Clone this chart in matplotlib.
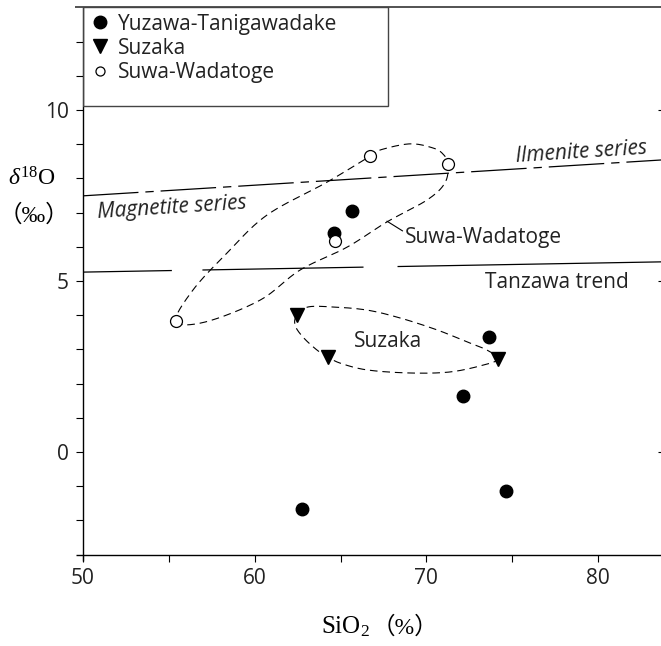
import matplotlib
matplotlib.use('Agg')
import matplotlib.pyplot as plt
import numpy as np
from matplotlib.lines import Line2D
from matplotlib.patches import Rectangle
from matplotlib.ticker import FixedLocator

plt.rcParams['font.family'] = ['Open Sans', 'DejaVu Sans']
plt.rcParams['mathtext.fontset'] = 'custom'
plt.rcParams['mathtext.rm'] = 'Liberation Serif'
plt.rcParams['mathtext.it'] = 'Liberation Serif:italic'
plt.rcParams['lines.scale_dashes'] = False

# ---------------- data ----------------
yuzawa_x = [65.67, 64.62, 73.65, 72.13, 74.64, 62.75]
yuzawa_y = [7.05, 6.40, 3.36, 1.64, -1.14, -1.67]
suzaka_x = [62.46, 64.27, 74.17]
suzaka_y = [4.01, 2.78, 2.72]
suwa_x = [66.72, 71.26, 64.68, 55.42]
suwa_y = [8.65, 8.42, 6.17, 3.83]

series_x = [50.0, 83.72]
mag_ilm_y = [7.49, 8.54]
tanzawa_y = [5.26, 5.56]

# hand-drawn envelopes (outline points)
suwa_env_x = [55.42, 57.11, 60.31, 62.64, 65.38, 67.71, 70.04, 71.08, 71.26,
              70.97, 70.38, 69.04, 67.30, 66.72, 64.21, 60.72, 58.39, 56.41]
suwa_env_y = [3.83, 3.80, 4.44, 5.32, 5.99, 6.73, 7.37, 7.87, 8.42,
              8.71, 8.89, 9.01, 8.83, 8.65, 7.89, 6.93, 5.82, 4.74]
suzaka_env_x = [62.46, 63.10, 64.56, 66.54, 68.46, 70.62, 72.36, 73.53, 74.17,
                73.30, 71.37, 69.04, 66.54, 64.97, 64.27, 63.63, 62.81, 62.35]
suzaka_env_y = [4.01, 4.24, 4.24, 4.15, 3.92, 3.57, 3.22, 2.98, 2.72,
                2.54, 2.34, 2.31, 2.40, 2.60, 2.78, 2.98, 3.36, 3.71]

x_major = [50, 60, 70, 80]
x_minor = [55, 65, 75]
y_major = [0, 5, 10]
y_minor = [-2, -1, 1, 2, 3, 4, 6, 7, 8, 9, 11, 12]

legend_labels = ['Yuzawa-Tanigawadake', 'Suzaka', 'Suwa-Wadatoge']

# ---------------- figure ----------------
W, H = 661, 646
fig = plt.figure(figsize=(W / 100, H / 100), dpi=100)
ax = fig.add_axes([83 / W, 91.4 / H, 579 / W, 547.2 / H])
ax.set_xlim(50, 83.72)
ax.set_ylim(-3, 13)

for s in ax.spines.values():
    s.set_visible(False)
# frame lines (slightly overshooting like the original)
fl = dict(color='black', lw=1.0, transform=ax.transAxes, clip_on=False, solid_capstyle='butt')
ax.plot([-7 / 579, 1.0], [0, 0], **fl)
ax.plot([0, 0], [-6 / 547, 1.0], **fl)
ax.plot([-8 / 579, 1.0], [1, 1], color='#444444', lw=1.3, transform=ax.transAxes,
        clip_on=False, solid_capstyle='butt')

ax.xaxis.set_major_locator(FixedLocator(x_major))
ax.xaxis.set_minor_locator(FixedLocator(x_minor))
ax.yaxis.set_major_locator(FixedLocator(y_major))
ax.yaxis.set_minor_locator(FixedLocator(y_minor))
ax.tick_params(which='both', direction='out', length=5, width=0.8, colors='black')
ax.tick_params(axis='x', which='major', pad=5, labelsize=15)
ax.tick_params(axis='y', which='major', pad=5, labelsize=15)
for lab in ax.get_xticklabels() + ax.get_yticklabels():
    lab.set_color('#222222')

# right-edge inward ticks
ax2 = ax.twinx()
ax2.set_ylim(-3, 13)
for s in ax2.spines.values():
    s.set_visible(False)
ax2.set_yticks(y_major)
ax2.tick_params(axis='y', direction='in', length=3, width=0.8, labelright=False)

# series lines
l1, = ax.plot(series_x, mag_ilm_y, color='black', lw=0.9)
l1.set_dashes([40, 5, 6, 5])
l2, = ax.plot(series_x, tanzawa_y, color='black', lw=0.9)
l2.set_dashes([64, 22, 116, 24.5, 300, 10])


def closed_smooth(xs, ys, n=24):
    P = ax.transData.transform(np.column_stack([xs, ys]))
    N = len(P)
    t = np.linspace(0, 1, n, endpoint=False)[:, None]
    out = []
    for i in range(N):
        p0, p1, p2, p3 = P[i - 1], P[i], P[(i + 1) % N], P[(i + 2) % N]
        q = 0.5 * (2 * p1 + (-p0 + p2) * t + (2 * p0 - 5 * p1 + 4 * p2 - p3) * t ** 2
                   + (-p0 + 3 * p1 - 3 * p2 + p3) * t ** 3)
        out.append(q)
    out.append(P[:1])
    Q = np.vstack(out)
    return ax.transData.inverted().transform(Q).T


for ex, ey in [(suwa_env_x, suwa_env_y), (suzaka_env_x, suzaka_env_y)]:
    sx, sy = closed_smooth(ex, ey)
    ln, = ax.plot(sx, sy, color='black', lw=0.8)
    ln.set_dashes([5.5, 3.5])

# markers
ax.plot(yuzawa_x, yuzawa_y, 'o', ms=9, color='black', mec='black', zorder=5)
ax.plot(suzaka_x, suzaka_y, 'v', ms=9.5, color='black', mec='black', zorder=5)
ax.plot(suwa_x, suwa_y, 'o', ms=8.6, mfc='white', mec='black', mew=0.9, zorder=5)

# texts
ax.text(55.2, 7.13, 'Magnetite series', fontsize=15, style='italic', ha='center',
        va='center', rotation=3.6, color='#222222')
ax.text(79.0, 8.77, 'Ilmenite series', fontsize=15, style='italic', ha='center',
        va='center', rotation=3.6, color='#222222')
ax.text(77.6, 4.97, 'Tanzawa trend', fontsize=15, ha='center', va='center', color='#222222')
ax.text(67.76, 3.22, 'Suzaka', fontsize=15, ha='center', va='center', color='#222222')
ax.annotate('Suwa-Wadatoge', xy=(67.7, 6.75), xytext=(73.35, 6.26), fontsize=15,
            ha='center', va='center', color='#222222',
            arrowprops=dict(arrowstyle='-', lw=0.8, color='black',
                            shrinkA=0, shrinkB=0, relpos=(0.0, 0.75)))

# legend
handles = [Line2D([], [], ls='none', marker='o', ms=9, color='black'),
           Line2D([], [], ls='none', marker='v', ms=9.5, color='black'),
           Line2D([], [], ls='none', marker='o', ms=6.5, mfc='white', mec='black', mew=0.9)]
leg = ax.legend(handles, legend_labels, loc='upper left', bbox_to_anchor=(0.0, 1.0),
                frameon=False, fontsize=15, handlelength=1.0, handletextpad=0.4,
                labelspacing=0.15, borderpad=0.3, borderaxespad=0.0)
for t in leg.get_texts():
    t.set_color('#222222')
ax.add_patch(Rectangle((0, 0.820), 0.527, 0.18, transform=ax.transAxes, fill=False,
                       lw=1.0, edgecolor='#444444', zorder=6))

# axis titles
cjk = ['Liberation Serif', 'Noto Sans CJK JP']
fig.text(32 / W, 1 - 180 / H, r'$\mathit{\delta}^{18}\mathrm{O}$', fontsize=17,
         ha='center', va='center')
fig.text(34 / W, 1 - 216 / H, '（‰）', fontsize=17, ha='center', va='center', family=cjk)
fig.text(370 / W, 1 - 627 / H, r'SiO$_2$', fontsize=18, ha='right', va='center',
         family=cjk)
fig.text(372 / W, 1 - 627 / H, '（%）', fontsize=17, ha='left', va='center', family=cjk)

fig.savefig('out.png', dpi=100)
